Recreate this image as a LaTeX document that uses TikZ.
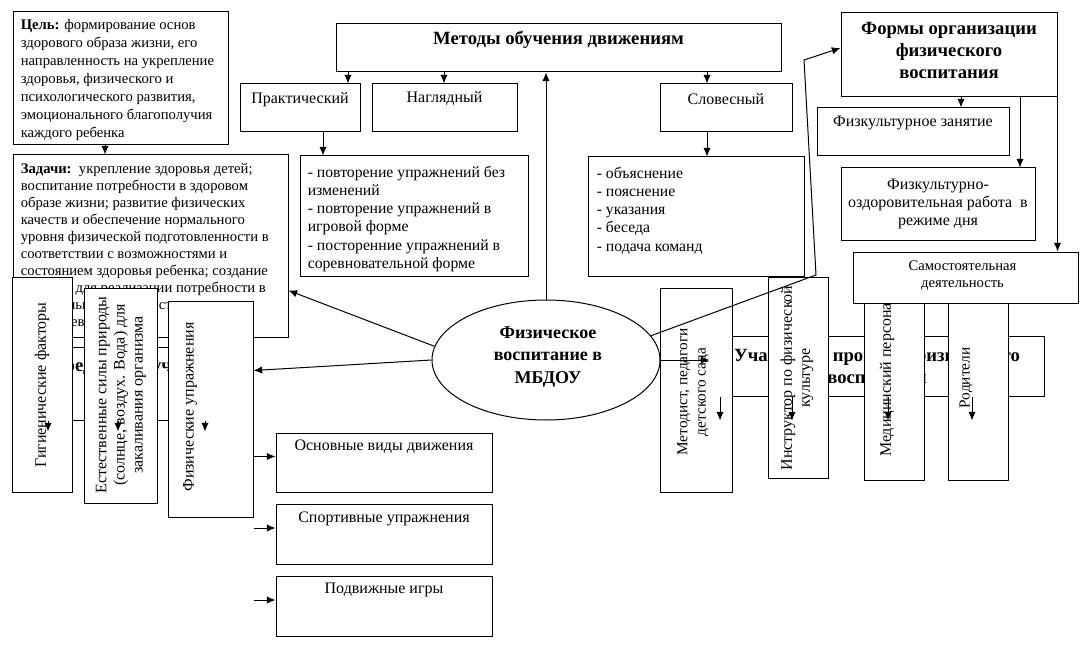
\documentclass[tikz,border=0pt]{standalone}
\usepackage{fontspec}
\setmainfont{Liberation Serif}
\usetikzlibrary{fit,shapes.geometric,arrows.meta}
\tikzset{
  bx/.style={draw, fill=white, inner sep=0pt, line width=0.75pt},
  arr/.style={line width=0.75pt, -{Latex[length=6.5pt,width=5.5pt]}},
  tx/.style={inner sep=0pt, font=\fontsize{11}{13.4}\selectfont, align=left},
  txc/.style={inner sep=0pt, font=\fontsize{12}{13.6}\selectfont, align=center},
  txl/.style={inner sep=0pt, font=\fontsize{11.8}{13.7}\selectfont, align=left},
  hd/.style={inner sep=0pt, font=\fontsize{14}{17}\selectfont\bfseries, align=center},
}
\newcommand\bx[5]{\node[bx, fit={(#2,#3) (#4,#5)}] (#1) {};}
\begin{document}
\begin{tikzpicture}[x=0.75pt,y=-0.75pt]
\fill[white] (0,0) rectangle (1081,649);
\useasboundingbox (0,0) rectangle (1081,649);
% x guides
\coordinate (x48) at (48,0);
\coordinate (x105) at (105,0);
\coordinate (x118) at (118,0);
\coordinate (x205) at (205,0);
\coordinate (x323) at (323,0);
\coordinate (x348) at (348,0);
\coordinate (x444) at (444,0);
\coordinate (x707) at (707,0);
\coordinate (x720) at (720,0);
\coordinate (x792) at (792,0);
\coordinate (x888) at (888,0);
\coordinate (x961) at (961,0);
\coordinate (x972) at (972,0);
\coordinate (x1020) at (1020,0);
\coordinate (b1) at (816,275);
\coordinate (b2) at (804,60);

% Goal and tasks
\bx{cel}{13}{12}{228}{145}
\node[tx, anchor=north west] (celt) at ([shift={(8,8)}]cel.north west)
 {\textbf{Цель:} формирование основ\\здорового образа жизни, его\\направленность на укрепление\\здоровья, физического и\\психологического развития,\\эмоционального благополучия\\каждого ребенка};
\bx{zad}{13}{155}{288}{337}
\node[tx, font=\fontsize{11}{12.75}\selectfont, anchor=north west] (zadt) at ([shift={(8,9)}]zad.north west)
 {\textbf{Задачи:}\ \ укрепление здоровья детей;\\воспитание потребности в здоровом\\образе жизни; развитие физических\\качеств и обеспечение нормального\\уровня физической подготовленности в\\соответствии с возможностями и\\состоянием здоровья ребенка; создание\\условий для реализации потребности в\\двигательной активности в\\повседневной жизни};

% hidden means box
\bx{sred}{13}{347}{250}{420}
\node[hd] (sredt) at ([shift={(0,20)}]sred.north) {Средства обучения};

\bx{gig}{12}{277}{72}{492}
\node[txc, rotate=90] (gigt) at (42,385) {Гигиенические факторы};
\bx{est}{84}{288}{157}{503}
\node[txc, rotate=90] (estt) at (121,395) {Естественные силы природы\\(солнце, воздух. Вода) для\\закаливания организма};
\bx{fizu}{168}{301}{253}{517}
\node[txc, rotate=90] (fizut) at (190,407) {Физические упражнения};

\bx{osn}{276}{433}{492}{492}
\node[txc] (osnt) at ([shift={(0,14)}]osn.north) {Основные виды движения};
\bx{sport}{276}{504}{492}{564}
\node[txc] (sportt) at ([shift={(0,15)}]sport.north) {Спортивные упражнения};
\bx{podv}{276}{576}{492}{636}
\node[txc] (podvt) at ([shift={(0,14)}]podv.north) {Подвижные игры};

% methods
\bx{met}{336}{24}{781}{72}
\node[hd] (mett) at ([shift={(0,-8)}]met.center) {Методы обучения движениям};
\bx{prak}{240}{84}{360}{132}
\node[txc] (prakt) at ([shift={(0,16)}]prak.north) {Практический};
\bx{nagl}{372}{84}{517}{132}
\node[txc] (naglt) at ([shift={(0,15)}]nagl.north) {Наглядный};
\bx{slov}{660}{84}{792}{132}
\node[txc] (slovt) at ([shift={(0,16)}]slov.north) {Словесный};
\bx{praklist}{300}{156}{528}{276}
\node[txl, anchor=north west] (praklistt) at ([shift={(8,10)}]praklist.north west)
 {- повторение упражнений без\\изменений\\- повторение упражнений в\\игровой форме\\- посторенние упражнений в\\соревновательной форме};
\bx{slovlist}{588}{157}{804}{276}
\node[txl, anchor=north west] (slovlistt) at ([shift={(9,10)}]slovlist.north west)
 {- объяснение\\- пояснение\\- указания\\- беседа\\- подача команд};

% forms
\bx{formy}{841}{13}{1057}{97}
\node[hd, font=\fontsize{14}{16.5}\selectfont\bfseries] (formyt) at ([shift={(0,-5)}]formy.center) {Формы организации\\физического\\воспитания};
\bx{fzan}{817}{108}{1009}{156}
\node[txc] (fzant) at ([shift={(0,15)}]fzan.north) {Физкультурное занятие};
\bx{fzozd}{841}{168}{1035}{240}
\node[txc] (fzozdt) at (fzozd.center) {Физкультурно-\\оздоровительная работа\ \ в\\режиме дня};

% participants
\bx{uch}{710}{336}{1044}{396}
\node[hd] (ucht) at (uch.center) {Участники процесса физического\\воспитания};
\bx{metod}{660}{288}{732}{492}
\node[txc, font=\fontsize{11.5}{13.6}\selectfont, rotate=90] (metodt) at (693,392) {Методист, педагоги\\детского сада};
\bx{instr}{768}{277}{828}{478}
\node[txc, rotate=90] (instrt) at (797,378) {Инструктор по физической\\культуре};
\bx{med}{864}{272}{924}{480}
\node[txc, rotate=90] (medt) at (887,376) {Медицинский персонал};
\bx{rod}{948}{276}{1008}{480}
\node[txc, font=\fontsize{11.5}{13.6}\selectfont, rotate=90] (rodt) at (966,378) {Родители};
\bx{sam}{853}{252}{1078}{303}
\node[txc, font=\fontsize{11}{13.4}\selectfont] (samt) at ([shift={(-3,-2)}]sam.center) {Самостоятельная\\деятельность};

% centre
\node[draw, ellipse, fill=white, line width=0.75pt, minimum width=171pt, minimum height=90pt, inner sep=0pt] (ell) at (546,360) {};
\node[inner sep=0pt, font=\fontsize{13.5}{17}\selectfont\bfseries, align=center] (ellt) at (548,357) {Физическое\\воспитание в\\МБДОУ};

% connectors
\draw[arr] (cel.south -| x105) -- (zad.north -| x105);
\draw[arr] (met.south -| x348) -- (prak.north -| x348);
\draw[arr] (met.south -| x444) -- (nagl.north -| x444);
\draw[arr] (met.south -| x707) -- (slov.north -| x707);
\draw[arr] (prak.south -| x323) -- (praklist.north -| x323);
\draw[arr] (slov.south -| x707) -- (slovlist.north -| x707);
\draw[arr] (ell.north) -- (ell.north |- met.south);
\draw[arr] (formy.south -| x961) -- (fzan.north -| x961);
\draw[arr] (formy.south -| x1020) -- (fzozd.north -| x1020);
\draw[arr] (formy.south east) -- (formy.south east |- sam.north);
\draw[arr] (ell.13.5) -- (b1) -- (b2) -- ([shift={(0,-7)}]formy.west);
\draw[arr] (ell.173) -- ([shift={(0,136)}]zad.north east);
\draw[arr] (ell.west) -- ([shift={(0,70)}]fizu.north east);
\draw[arr] (ell.east) -- (ell.east -| uch.west);
\coordinate (t1) at ([shift={(0,-6)}]osn.west);
\coordinate (t2) at ([shift={(0,-6)}]sport.west);
\coordinate (t3) at ([shift={(0,-6)}]podv.west);
\draw[arr] (fizu.east |- t1) -- (t1);
\draw[arr] (fizu.east |- t2) -- (t2);
\draw[arr] (fizu.east |- t3) -- (t3);
\draw[arr] (sred.south -| x48) -- ++(0,11);
\draw[arr] (sred.south -| x118) -- ++(0,11);
\draw[arr] (sred.south -| x205) -- ++(0,11);
\draw[arr] (uch.south -| x720) -- ++(0,24);
\draw[arr] (uch.south -| x792) -- ++(0,24);
\draw[arr] (uch.south -| x888) -- ++(0,24);
\draw[arr] (uch.south -| x972) -- ++(0,24);
\end{tikzpicture}
\end{document}
